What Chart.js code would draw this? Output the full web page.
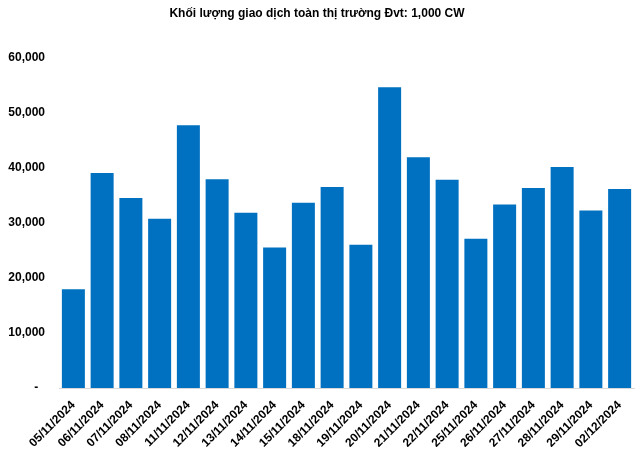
<!DOCTYPE html>
<html>
<head>
<meta charset="utf-8">
<script src="https://cdn.jsdelivr.net/npm/chart.js@4"></script>
<style>
  html, body { margin: 0; padding: 0; background: #fff; }
  #wrap { width: 640px; height: 449px; }
</style>
</head>
<body>
<div id="wrap"><canvas id="chart"></canvas></div>
<script>
const dates = ['05/11/2024', '06/11/2024', '07/11/2024', '08/11/2024', '11/11/2024',
  '12/11/2024', '13/11/2024', '14/11/2024', '15/11/2024', '18/11/2024',
  '19/11/2024', '20/11/2024', '21/11/2024', '22/11/2024', '25/11/2024',
  '26/11/2024', '27/11/2024', '28/11/2024', '29/11/2024', '02/12/2024'];
const volumes = [17900, 39000, 34500, 30700, 47700,
  37900, 31800, 25500, 33600, 36500,
  26000, 54600, 41900, 37800, 27100,
  33300, 36300, 40100, 32200, 36100];
const yTicks = [0, 10000, 20000, 30000, 40000, 50000, 60000];
const titleText = 'Khối lượng giao dịch toàn thị trường Đvt: 1,000 CW';

const font = 'Liberation Sans, Arial, sans-serif';

new Chart(document.getElementById('chart'), {
  type: 'bar',
  data: {
    labels: dates,
    datasets: [{
      data: volumes,
      backgroundColor: '#0070C0',
      categoryPercentage: 0.8,
      barPercentage: 1.0
    }]
  },
  options: {
    responsive: true,
    maintainAspectRatio: false,
    animation: false,
    layout: { padding: { left: 0, right: 6, top: 0, bottom: 2 } },
    plugins: {
      legend: { display: false },
      tooltip: { enabled: false },
      title: {
        display: true,
        text: titleText,
        color: '#000',
        font: { family: font, size: 12, weight: 'bold' },
        padding: { top: 6, bottom: 37 }
      }
    },
    scales: {
      x: {
        grid: { display: false, drawTicks: false },
        border: { display: true, color: '#d9d9d9', width: 1 },
        ticks: {
          color: '#000',
          font: { family: font, size: 12, weight: 'bold' },
          minRotation: 45,
          maxRotation: 45,
          autoSkip: false,
          padding: 10
        },
        afterFit: (s) => { s.height = 59; }
      },
      y: {
        min: 0,
        max: 60000,
        afterBuildTicks: (s) => { s.ticks = yTicks.map(v => ({ value: v })); },
        grid: { display: false, drawTicks: false },
        border: { display: false },
        ticks: {
          color: '#000',
          font: { family: font, size: 12, weight: 'bold' },
          padding: 14,
          callback: (v) => v === 0 ? '-  ' : v.toLocaleString('en-US')
        },
        afterFit: (s) => { s.width = 59; }
      }
    }
  }
});
</script>
</body>
</html>
